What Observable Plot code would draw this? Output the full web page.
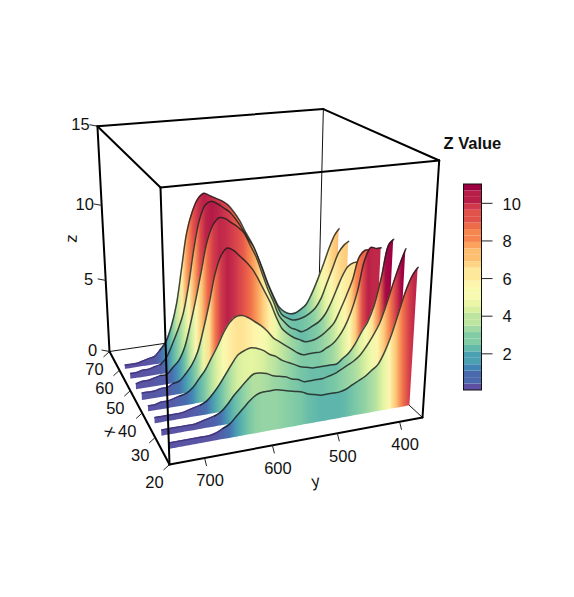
<!DOCTYPE html><html><body style="margin:0;background:#fff">
<script src="https://cdn.jsdelivr.net/npm/d3@7"></script>
<script src="https://cdn.jsdelivr.net/npm/@observablehq/plot@0.6"></script>
<div id="c"></div>
<script>
// ---- data ----
const yGrid=[740,730,720,710,700,690,680,670,660,650,640,630,620,610,600,590,580,570,560,550,540,530,520,510,500,490,480,470,460,450,440,430,420,410,400,390,380,370,362];
const z60=[0.3,0.3,0.3,0.4,0.5,0.6,1.0,1.5,2.5,4.0,6.3,8.6,9.9,10.7,11.0,10.8,10.6,10.4,10.1,9.6,9.0,8.2,7.5,6.6,5.6,4.5,3.6,2.8,2.4,2.2,2.2,2.4,2.7,3.4,4.3,5.3,6.4,7.3,7.7];
const z55=[0.4,0.4,0.5,0.5,0.6,0.7,1.1,1.9,2.8,3.9,5.7,8.0,9.8,10.7,10.9,10.7,10.4,10.1,9.6,9.0,8.3,7.7,6.7,5.6,4.6,3.7,2.9,2.6,2.4,2.4,2.5,2.7,3.0,3.6,4.6,5.6,6.6,7.1,7.3];
const z50=[0.4,0.5,0.5,0.6,0.7,0.7,1.1,1.5,2.3,3.7,5.3,7.1,8.9,9.9,10.3,10.2,9.9,9.6,9.2,8.4,7.6,6.5,5.4,4.5,3.5,3.0,2.6,2.4,2.2,2.3,2.5,2.7,3.1,3.8,4.7,5.6,6.2,6.4,6.4];
const z45=[0.5,0.5,0.5,0.6,0.6,0.8,0.9,1.3,1.8,2.6,4.0,5.6,7.4,8.5,8.9,8.7,8.3,7.9,7.4,6.7,5.9,5.1,4.1,3.3,2.9,2.6,2.4,2.2,2.2,2.3,2.5,2.8,3.2,4.0,4.9,5.9,7.3,7.7,7.7];
const z40=[0.4,0.4,0.5,0.5,0.6,0.7,0.8,1.1,1.6,2.1,2.8,3.5,4.3,4.9,5.2,5.2,5.0,4.7,4.4,4.0,3.5,3.2,2.9,2.6,2.3,2.1,2.1,2.1,2.1,2.3,2.5,2.9,3.5,4.4,5.7,7.6,8.4,8.3,8.3];
const z35=[0.4,0.4,0.4,0.4,0.4,0.5,0.6,0.7,0.9,1.3,1.8,2.4,3.0,3.5,3.7,3.8,3.7,3.5,3.2,3.0,2.7,2.5,2.3,2.1,2.0,1.9,1.9,1.9,1.9,1.9,2.2,2.5,3.0,3.7,4.3,5.3,7.0,9.0,9.3];
const z30=[0.4,0.4,0.4,0.4,0.4,0.4,0.5,0.6,0.7,0.9,1.3,1.8,2.2,2.6,2.9,2.9,2.8,2.6,2.5,2.4,2.2,2.1,1.9,1.9,1.9,1.9,2.0,2.1,2.3,2.5,2.7,3.0,3.5,4.1,4.8,5.9,7.2,8.4,9.2];
const z25=[0.4,0.4,0.4,0.4,0.4,0.4,0.4,0.5,0.7,0.9,1.3,1.7,2.1,2.4,2.5,2.5,2.5,2.4,2.3,2.2,2.1,1.9,1.8,1.7,1.7,1.7,1.7,1.8,2.0,2.2,2.4,2.7,3.0,3.7,4.7,6.0,7.3,8.2,8.6];
const ribbons=[[60,z60],[55,z55],[50,z50],[45,z45],[40,z40],[35,z35],[30,z30],[25,z25]];
// colour value per unit of drawn height, read per ribbon from the picture
const colorGain=[0.95,0.97,1.0,1.17,1.24,1.2,1.2,1.2];
const xTicks=[20,30,40,50,60,70],yTicks=[700,600,500,400],zTicks=[0,5,10,15],keyTicks=[2,4,6,8,10];
const xLim=[20,70],yLim=[750,362],zLim=[0,15],keyLim=[0.05,11];
const nColors=32;
// ---- viewing transform of the 3D box ----
const O=[169,464],U=[109,351],V=[422,417],Wp=[160,187],wa=1.256,wb=1.088,wc=0.9025;
function proj(x,y,z){
  const u=(x-xLim[0])/(xLim[1]-xLim[0]),v=(y-yLim[0])/(yLim[1]-yLim[0]),w=(z-zLim[0])/(zLim[1]-zLim[0]);
  const d=1+u*(wa-1)+v*(wb-1)+w*(wc-1);
  return [0,1].map(i=>(O[i]+u*(wa*U[i]-O[i])+v*(wb*V[i]-O[i])+w*(wc*Wp[i]-O[i]))/d);
}
const P=(x,y,z)=>{const p=proj(x,y,z);return {x:p[0],y:p[1]}};
const seg=(a,b)=>{const p=P(...a),q=P(...b);return {x1:p.x,y1:p.y,x2:q.x,y2:q.y}};
const [xa,xb]=xLim,[ya,yb]=yLim,[za,zb]=zLim;
const backEdges=[seg([xb,yb,zb],[xb,yb,za]),seg([xb,ya,za],[xb,yb,za]),seg([xa,yb,za],[xb,yb,za])];
const frontEdges=[
 seg([xb,ya,zb],[xb,yb,zb]),seg([xb,yb,zb],[xa,yb,zb]),seg([xa,yb,zb],[xa,ya,zb]),seg([xa,ya,zb],[xb,ya,zb]),
 seg([xb,ya,zb],[xb,ya,za]),seg([xa,ya,zb],[xa,ya,za]),seg([xa,yb,zb],[xa,yb,za]),
 seg([xb,ya,za],[xa,ya,za]),seg([xa,ya,za],[xa,yb,za])];
const ticks=(ts,f,dx,dy)=>ts.map(t=>{const p=f(t);return {x1:p.x,y1:p.y,x2:p.x+dx,y2:p.y+dy}});
const tickLabels=(ts,f,dx,dy)=>ts.map(t=>{const p=f(t);return {x:p.x+dx,y:p.y+dy,t:String(t)}});
const fx=t=>P(t,ya,za),fy=t=>P(xa,t,za),fz=t=>P(xb,ya,t);
// colour key
const keyPos=d3.scaleLinear().domain(keyLim).range([390,184]);
const keyBins=d3.range(nColors).map(i=>{const s=(keyLim[1]-keyLim[0])/nColors,a=keyLim[0]+i*s;return {a,b:a+s,v:a+s/2}});
const ramp=v=>d3.interpolateSpectral(1-Math.max(0,Math.min(1,(v-keyLim[0])/(keyLim[1]-keyLim[0]))));
// low heights stay in the purple end of the ramp, as in the picture
const lowTone=v=>v*Math.min(1,v/1.6);
const font={fontSize:16.5,fill:"#111"};
const gradients=()=>{
  const defs=d3.create("svg:defs");
  ribbons.forEach(([x,zs],r)=>{
    const sx=zs.map((z,j)=>P(x,yGrid[j],z*0.6).x),lo=d3.min(sx),hi=d3.max(sx);
    const g=defs.append("linearGradient").attr("id","rib"+x).attr("gradientUnits","userSpaceOnUse")
      .attr("x1",lo).attr("x2",hi).attr("y1",0).attr("y2",0);
    zs.forEach((z,j)=>g.append("stop").attr("offset",(sx[j]-lo)/(hi-lo)).attr("stop-color",ramp(lowTone(z*colorGain[r]))));
  });
  return defs.node();
};
const marks=[
 gradients,
 Plot.link(backEdges,{x1:"x1",y1:"y1",x2:"x2",y2:"y2",stroke:"#111",strokeWidth:1}),
 ...ribbons.flatMap(([x,zs])=>{
   const rows=zs.map((z,j)=>{const t=P(x,yGrid[j],z),b=P(x,yGrid[j],0);return {x1:b.x,y1:b.y,x2:t.x,y2:t.y}});
   const top=zs.map((z,j)=>P(x,yGrid[j],z));
   const k=zs.findIndex(z=>z>=0.7);
   return [
    Plot.area(rows,{x1:"x1",y1:"y1",x2:"x2",y2:"y2",fill:`url(#rib${x})`,curve:"catmull-rom"}),
    Plot.line(top.slice(0,k+1),{x:"x",y:"y",stroke:"#43377f",strokeWidth:1.5,curve:"catmull-rom"}),
    Plot.line(top.slice(k),{x:"x",y:"y",stroke:"#1c1c1c",strokeWidth:1.5,strokeOpacity:0.8,curve:"catmull-rom"})
   ];
 }),
 Plot.link(frontEdges,{x1:"x1",y1:"y1",x2:"x2",y2:"y2",stroke:"#000",strokeWidth:2,strokeLinecap:"round"}),
 Plot.link(ticks(xTicks,fx,-6,5.5),{x1:"x1",y1:"y1",x2:"x2",y2:"y2",stroke:"#222",strokeWidth:1}),
 Plot.link(ticks(yTicks,fy,2,8),{x1:"x1",y1:"y1",x2:"x2",y2:"y2",stroke:"#222",strokeWidth:1}),
 Plot.link(ticks(zTicks,fz,-8,-1.5),{x1:"x1",y1:"y1",x2:"x2",y2:"y2",stroke:"#222",strokeWidth:1}),
 Plot.text(tickLabels(xTicks,fx,-15,18.5),{x:"x",y:"y",text:"t",...font}),
 Plot.text(tickLabels(yTicks,fy,5.5,23),{x:"x",y:"y",text:"t",...font}),
 Plot.text(tickLabels(zTicks,fz,-17,-1),{x:"x",y:"y",text:"t",...font}),
 Plot.text([{x:110,y:431,t:"x"}],{x:"x",y:"y",text:"t",rotate:62,...font}),
 Plot.text([{x:315,y:481,t:"y"}],{x:"x",y:"y",text:"t",rotate:-8,...font}),
 Plot.text([{x:71,y:238,t:"z"}],{x:"x",y:"y",text:"t",rotate:-87,...font}),
 Plot.rect(keyBins,{x1:()=>463.5,x2:()=>481.5,y1:d=>keyPos(d.a),y2:d=>keyPos(d.b),fill:"v"}),
 Plot.rect([keyLim],{x1:()=>463.5,x2:()=>481.5,y1:d=>keyPos(d[0]),y2:d=>keyPos(d[1]),fill:"none",stroke:"#111",strokeWidth:1}),
 Plot.link(keyTicks,{x1:()=>481.5,x2:()=>492,y1:d=>keyPos(d),y2:d=>keyPos(d),stroke:"#222",strokeWidth:1}),
 Plot.text(keyTicks,{x:()=>502,y:d=>keyPos(d)+1,text:d=>String(d),textAnchor:"start",...font}),
 Plot.text([{x:443,y:143,t:"Z Value"}],{x:"x",y:"y",text:"t",textAnchor:"start",fontWeight:"bold",...font})
];
const chart=Plot.plot({
 width:574,height:597,margin:0,
 style:{fontFamily:"'Liberation Sans',Arial,sans-serif",background:"#fff"},
 x:{domain:[0,574],range:[0,574],axis:null},
 y:{domain:[0,597],range:[0,597],axis:null},
 color:{type:"quantize",domain:keyLim,n:nColors,scheme:"Spectral",reverse:true,legend:false},
 marks
});
document.getElementById("c").appendChild(chart);
</script>
</body></html>
